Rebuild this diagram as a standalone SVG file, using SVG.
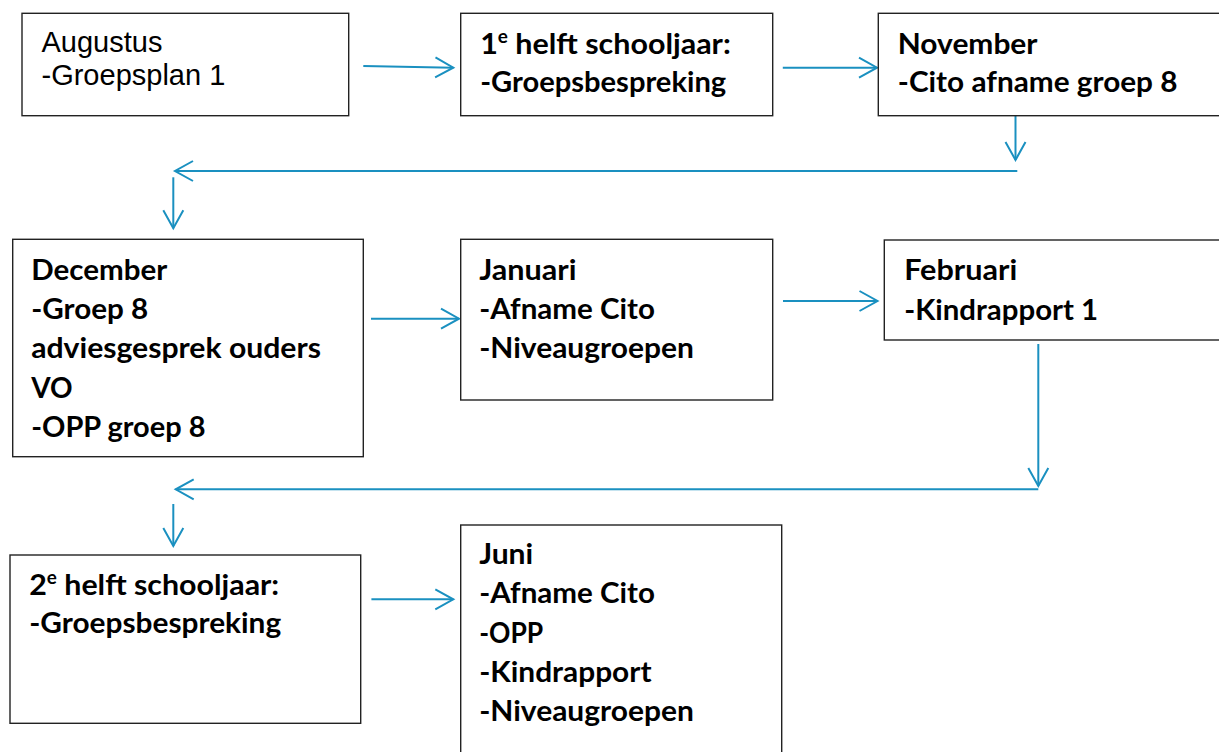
<svg xmlns="http://www.w3.org/2000/svg" width="1219" height="752" viewBox="0 0 1219 752">
<style>
.box{fill:#fff;stroke:#222;stroke-width:1.4}
.reg{font-family:"Liberation Sans",Arial,sans-serif;font-size:29px;fill:#000}
.b{font-family:Lato,"Open Sans",sans-serif;font-weight:700;font-size:29px;fill:#000}
.sup{font-size:18px}
.conn{fill:none;stroke:#1a90c0;stroke-width:2}
</style>
<defs>
<marker id="chev" markerUnits="userSpaceOnUse" markerWidth="30" markerHeight="30" viewBox="-22 -15 30 30" refX="0" refY="0" orient="auto" overflow="visible">
<path d="M-18,-10 L0,0 L-18,10" fill="none" stroke="#1a90c0" stroke-width="2"/>
</marker>
</defs>
<rect width="1219" height="752" fill="#fff"/>
<g id="connectors">
<path class="conn" d="M363.3,66 L453.3,67.7" marker-end="url(#chev)"/>
<path class="conn" d="M782.8,67.7 L877,67.7" marker-end="url(#chev)"/>
<path class="conn" d="M1015.5,109.3 L1015.5,160" marker-end="url(#chev)"/>
<path class="conn" d="M1017.3,171 L175,171" marker-end="url(#chev)"/>
<path class="conn" d="M173.3,177.3 L173.3,228.3" marker-end="url(#chev)"/>
<path class="conn" d="M371,318.7 L459,318.7" marker-end="url(#chev)"/>
<path class="conn" d="M783,301 L877.5,301" marker-end="url(#chev)"/>
<path class="conn" d="M1038.3,344 L1038.3,486" marker-end="url(#chev)"/>
<path class="conn" d="M1038.3,489.3 L175.7,489.3" marker-end="url(#chev)"/>
<path class="conn" d="M173.3,504 L173.3,546" marker-end="url(#chev)"/>
<path class="conn" d="M371.4,599.3 L453.3,599.3" marker-end="url(#chev)"/>
</g>
<g id="augustus">
<rect class="box" x="22" y="13.3" width="326.7" height="102.4"/>
<text class="reg" x="41.5" y="52">Augustus</text>
<text class="reg" x="41.5" y="85">-Groepsplan 1</text>
</g>
<g id="helft1">
<rect class="box" x="460.7" y="13.3" width="312" height="102.4"/>
<text class="b" x="480.2" y="54.3" textLength="250.6" lengthAdjust="spacingAndGlyphs">1<tspan class="sup" dy="-11">e</tspan><tspan dy="11"> helft schooljaar:</tspan></text>
<text class="b" x="480.2" y="91.7" textLength="246" lengthAdjust="spacingAndGlyphs">-Groepsbespreking</text>
</g>
<g id="november">
<rect class="box" x="878.3" y="13.3" width="400" height="102.4"/>
<text class="b" x="897.8" y="54" textLength="139.7" lengthAdjust="spacingAndGlyphs">November</text>
<text class="b" x="897.8" y="91.7" textLength="279.7" lengthAdjust="spacingAndGlyphs">-Cito afname groep 8</text>
</g>
<g id="december">
<rect class="box" x="12.7" y="239.3" width="350.6" height="217.4"/>
<text class="b" x="31.2" y="280" textLength="136" lengthAdjust="spacingAndGlyphs">December</text>
<text class="b" x="31.2" y="319.3" textLength="117" lengthAdjust="spacingAndGlyphs">-Groep 8</text>
<text class="b" x="31.2" y="358.3" textLength="289.7" lengthAdjust="spacingAndGlyphs">adviesgesprek ouders</text>
<text class="b" x="31.2" y="398.3" textLength="41.3" lengthAdjust="spacingAndGlyphs">VO</text>
<text class="b" x="31.2" y="437.3" textLength="174.3" lengthAdjust="spacingAndGlyphs">-OPP groep 8</text>
</g>
<g id="januari">
<rect class="box" x="460.7" y="239.3" width="312" height="160.7"/>
<text class="b" x="479.2" y="280" textLength="97.3" lengthAdjust="spacingAndGlyphs">Januari</text>
<text class="b" x="479.2" y="319.3" textLength="175.7" lengthAdjust="spacingAndGlyphs">-Afname Cito</text>
<text class="b" x="479.2" y="358.3" textLength="214.7" lengthAdjust="spacingAndGlyphs">-Niveaugroepen</text>
</g>
<g id="februari">
<rect class="box" x="884.3" y="240" width="400" height="100"/>
<text class="b" x="904.2" y="280" textLength="113" lengthAdjust="spacingAndGlyphs">Februari</text>
<text class="b" x="904.2" y="320" textLength="194" lengthAdjust="spacingAndGlyphs">-Kindrapport 1</text>
</g>
<g id="helft2">
<rect class="box" x="10" y="555" width="350.7" height="168.3"/>
<text class="b" x="29.2" y="595" textLength="250" lengthAdjust="spacingAndGlyphs">2<tspan class="sup" dy="-11">e</tspan><tspan dy="11"> helft schooljaar:</tspan></text>
<text class="b" x="29.2" y="633.3" textLength="252" lengthAdjust="spacingAndGlyphs">-Groepsbespreking</text>
</g>
<g id="juni">
<rect class="box" x="460.7" y="525" width="321" height="300"/>
<text class="b" x="479.2" y="564.3" textLength="54" lengthAdjust="spacingAndGlyphs">Juni</text>
<text class="b" x="479.2" y="603.3" textLength="175.7" lengthAdjust="spacingAndGlyphs">-Afname Cito</text>
<text class="b" x="479.2" y="642.7" textLength="64" lengthAdjust="spacingAndGlyphs">-OPP</text>
<text class="b" x="479.2" y="681.7" textLength="172.3" lengthAdjust="spacingAndGlyphs">-Kindrapport</text>
<text class="b" x="479.2" y="720.7" textLength="214.7" lengthAdjust="spacingAndGlyphs">-Niveaugroepen</text>
</g>
</svg>
